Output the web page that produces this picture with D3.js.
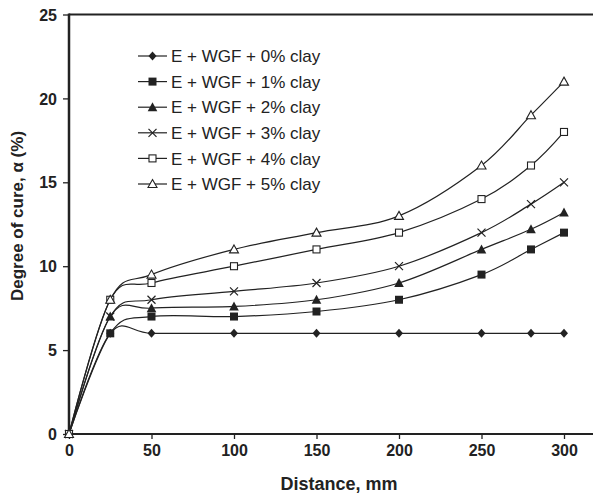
<!DOCTYPE html>
<html>
<head>
<meta charset="utf-8">
<script src="https://cdn.jsdelivr.net/npm/d3@7"></script>
<style>
  body { margin: 0; background: #fff; }
  svg { display: block; font-family: "Liberation Sans", Arial, sans-serif; }
</style>
</head>
<body>
<svg id="chart" width="593" height="495"></svg>
<script>
// distance along the sample, mm
var distances = [0, 25, 50, 100, 150, 200, 250, 280, 300]

var clay0 = [0, 6, 6, 6, 6, 6, 6, 6, 6]
var clay1 = [0, 6, 7, 7, 7.3, 8, 9.5, 11, 12]
var clay2 = [0, 7, 7.5, 7.6, 8, 9, 11, 12.2, 13.2]
var clay3 = [0, 7, 8, 8.5, 9, 10, 12, 13.7, 15]
var clay4 = [0, 8, 9, 10, 11, 12, 14, 16, 18]
var clay5 = [0, 8, 9.5, 11, 12, 13, 16, 19, 21]

var seriesNames = [
    "E + WGF + 0% clay", "E + WGF + 1% clay", "E + WGF + 2% clay",
    "E + WGF + 3% clay", "E + WGF + 4% clay", "E + WGF + 5% clay"
]
var markerTypes = ["diamond", "square", "triangle", "cross", "openSquare", "openTriangle"]

var xTicks = [0, 50, 100, 150, 200, 250, 300]
var yTicks = [0, 5, 10, 15, 20, 25]

var allSeries = [clay0, clay1, clay2, clay3, clay4, clay5].map(function(vals, i) {
    return {
        name: seriesNames[i],
        marker: markerTypes[i],
        points: vals.map(function(v, j) { return [distances[j], v] })
    }
})

var ink = "#222"

var svg = d3.select("#chart")

var x = d3.scaleLinear().domain([0, 300]).range([69, 564])
var y = d3.scaleLinear().domain([0, 25]).range([434, 14.5])

// frame: top line and bottom axis run to the page edge
svg.append("line")
    .attr("x1", 69).attr("x2", 593)
    .attr("y1", y(25)).attr("y2", y(25))
    .attr("stroke", ink).attr("stroke-width", 2)

var xAxis = svg.append("g")
    .attr("transform", `translate(0,${y(0)})`)
    .call(d3.axisBottom(x).tickValues(xTicks).tickSize(5).tickPadding(6))
xAxis.select(".domain").remove()
xAxis.append("line")
    .attr("x1", 68).attr("x2", 593)
    .attr("stroke", ink).attr("stroke-width", 2)

var yAxis = svg.append("g")
    .attr("transform", `translate(${x(0)},0)`)
    .call(d3.axisLeft(y).tickValues(yTicks).tickSize(6).tickPadding(6))
yAxis.select(".domain")
    .attr("stroke", ink).attr("stroke-width", 2.5)
    .attr("d", `M0,${y(0) + 1}V${y(25) - 1}`)

svg.selectAll(".tick line").attr("stroke", ink).attr("stroke-width", 1.3)
svg.selectAll(".tick text")
    .attr("fill", ink)
    .style("font-size", "16px")
    .style("font-weight", "bold")
    .style("font-family", "'Liberation Sans', Arial, sans-serif")
yAxis.selectAll(".tick text").attr("dy", "0.35em")

// axis titles
svg.append("text")
    .attr("x", 339).attr("y", 490)
    .attr("text-anchor", "middle")
    .attr("fill", ink)
    .style("font-size", "18px").style("font-weight", "bold")
    .text("Distance, mm")

svg.append("text")
    .attr("transform", "translate(23,216) rotate(-90)")
    .attr("text-anchor", "middle")
    .attr("fill", ink)
    .style("font-size", "17px").style("font-weight", "bold")
    .text("Degree of cure, α (%)")

// draw one marker of a given kind centred on 0,0
function drawMarker(g, kind) {
    if (kind == "diamond") {
        g.append("path").attr("d", "M0,-4.5L4,0L0,4.5L-4,0Z").attr("fill", ink)
    } else if (kind == "square") {
        g.append("rect").attr("x", -4).attr("y", -4).attr("width", 8).attr("height", 8).attr("fill", ink)
    } else if (kind == "triangle") {
        g.append("path").attr("d", "M0,-5L4.8,4L-4.8,4Z").attr("fill", ink)
    } else if (kind == "cross") {
        g.append("path").attr("d", "M-4,-4L4,4M-4,4L4,-4")
            .attr("stroke", ink).attr("stroke-width", 1.2).attr("fill", "none")
    } else if (kind == "openSquare") {
        g.append("rect").attr("x", -3.5).attr("y", -3.5).attr("width", 7).attr("height", 7)
            .attr("fill", "#fff").attr("stroke", ink).attr("stroke-width", 1.1)
    } else if (kind == "openTriangle") {
        g.append("path").attr("d", "M0,-4.5L4.5,3.5L-4.5,3.5Z")
            .attr("fill", "#fff").attr("stroke", ink).attr("stroke-width", 1.1)
    }
}

var line = d3.line()
    .x(function(d) { return x(d[0]) })
    .y(function(d) { return y(d[1]) })
    .curve(d3.curveCardinal.tension(0))

var seriesGroup = svg.append("g").attr("class", "series")

allSeries.forEach(function(s) {
    seriesGroup.append("path")
        .datum(s.points)
        .attr("d", line)
        .attr("fill", "none")
        .attr("stroke", ink)
        .attr("stroke-width", 1.2)
})

allSeries.forEach(function(s) {
    s.points.forEach(function(p) {
        var g = seriesGroup.append("g")
            .attr("transform", `translate(${x(p[0])},${y(p[1])})`)
        drawMarker(g, s.marker)
    })
})

// legend
var legend = svg.append("g").attr("transform", "translate(138,56)")
allSeries.forEach(function(s, i) {
    var row = legend.append("g").attr("transform", `translate(0,${i * 25.6})`)
    row.append("line")
        .attr("x1", 0).attr("x2", 29)
        .attr("stroke", ink).attr("stroke-width", 1.2)
    var m = row.append("g").attr("transform", "translate(14.5,0)")
    drawMarker(m, s.marker)
    row.append("text")
        .attr("x", 33).attr("dy", "0.36em")
        .attr("fill", ink)
        .style("font-size", "17px")
        .text(s.name)
})
</script>
</body>
</html>
